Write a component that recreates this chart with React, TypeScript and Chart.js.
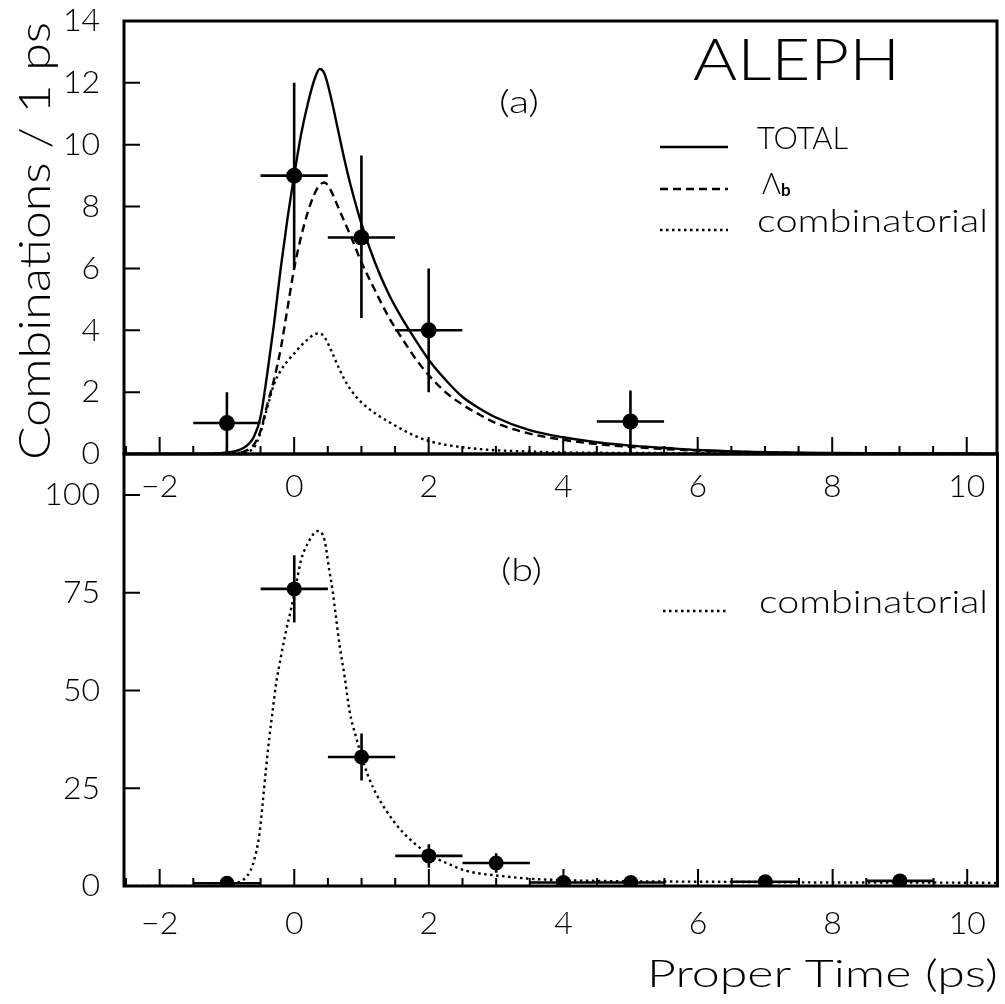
import React, { useEffect, useRef } from 'react';
import { Chart, registerables } from 'chart.js';

Chart.register(...registerables);

const W = 1005;
const H = 1004;
const FONT = 'Lato, "Open Sans", "DejaVu Sans", sans-serif';
const TEXT_WEIGHT = '300';

// ---------- axis ranges / ticks ----------
const X_MIN = -2.53;
const X_MAX = 10.45;
const X_TICK_STEP = 2;
const X_MINOR_STEP = 0.5;
const TOP_Y_MAX = 14;
const TOP_Y_STEP = 2;
const BOT_Y_MAX = 110.5;
const BOT_Y_STEP = 25;

// ---------- panel (a): fitted curves ----------
const topCurveT = [
  -2.53, -1.5, -1.0, -0.75, -0.6, -0.5, -0.4, -0.3, -0.2, -0.1,
  0, 0.1, 0.2, 0.3, 0.38, 0.45, 0.55, 0.65, 0.75, 0.85,
  1.0, 1.2, 1.4, 1.6, 1.8, 2.0, 2.25, 2.5, 2.75, 3.0,
  3.5, 4.0, 4.5, 5.0, 5.5, 6.0, 7.0, 8.0, 9.0, 10.45,
];
const topTotal = [
  0, 0, 0.05, 0.2, 0.55, 1.2, 2.6, 4.2, 6.0, 7.6,
  9.0, 10.3, 11.3, 12.1, 12.45, 12.3, 11.5, 10.5, 9.5, 8.6,
  7.45, 6.2, 5.2, 4.4, 3.7, 3.05, 2.4, 1.85, 1.48, 1.18,
  0.77, 0.54, 0.38, 0.27, 0.2, 0.13, 0.06, 0.03, 0.015, 0.005,
];
const topLambdaB = [
  0, 0, 0.02, 0.08, 0.3, 0.75, 1.6, 2.4, 3.4, 4.7,
  6.0, 7.0, 7.8, 8.4, 8.7, 8.78, 8.5, 8.0, 7.5, 7.0,
  6.2, 5.3, 4.45, 3.75, 3.1, 2.55, 2.0, 1.6, 1.28, 1.0,
  0.66, 0.46, 0.32, 0.23, 0.16, 0.11, 0.05, 0.02, 0.01, 0.004,
];
const topCombinatorial = [
  0, 0, 0.02, 0.06, 0.2, 0.7, 1.5, 2.25, 2.7, 3.0,
  3.25, 3.5, 3.7, 3.87, 3.9, 3.78, 3.35, 2.85, 2.4, 2.05,
  1.67, 1.32, 1.05, 0.8, 0.58, 0.42, 0.3, 0.22, 0.16, 0.12,
  0.08, 0.05, 0.04, 0.03, 0.03, 0.02, 0.02, 0.01, 0.01, 0.01,
];

// ---------- panel (a): data points ----------
const topDataT = [-1, 0, 1, 2, 5];
const topDataN = [1, 9, 7, 4, 1.05];
const topErrUp = [1, 3, 2.65, 2, 1];
const topErrDown = [1, 3, 2.6, 2, 1.05];
const topBinHalf = [0.5, 0.5, 0.5, 0.5, 0.5];

// ---------- panel (b): combinatorial curve ----------
const botCurveT = [
  -2.53, -1.5, -1.0, -0.85, -0.75, -0.65, -0.6, -0.52, -0.47, -0.42,
  -0.37, -0.32, -0.27, -0.2, -0.12, -0.04, 0.03, 0.1, 0.2, 0.35,
  0.45, 0.52, 0.57, 0.62, 0.67, 0.75, 0.82, 0.92, 1.02, 1.17,
  1.37, 1.6, 2.0, 2.3, 2.55, 3.05, 3.55, 4.0, 4.5, 5.0,
  6.0, 7.0, 8.0, 9.0, 10.45,
];
const botCombinatorial = [
  0, 0, 0.3, 0.8, 1.7, 4, 6.4, 13, 21, 30,
  38, 45, 51.7, 58.5, 65.4, 71.4, 77.4, 83.3, 87.6, 90.8,
  88.5, 80.8, 75.6, 68.8, 62, 53.4, 44.9, 38, 32, 25.2,
  19.2, 14, 8.1, 5.6, 3.9, 2.6, 1.8, 1.5, 1.3, 1.2,
  1.1, 1.0, 0.9, 0.9, 0.8,
];

// ---------- panel (b): data points ----------
const botDataT = [-1, 0, 1, 2, 3, 4, 5, 7, 9];
const botDataN = [0.7, 76, 33, 7.7, 5.9, 0.9, 0.9, 1.1, 1.3];
const botErrUp = [1, 8.6, 6, 3, 2.5, 1, 1, 1, 1];
const botErrDown = [0.7, 8.6, 6, 3, 2.5, 0.9, 0.9, 1.1, 1.3];
const botBinHalf = [0.5, 0.5, 0.5, 0.5, 0.5, 0.5, 0.5, 0.5, 0.5];

// ---------- text ----------
const Y_TITLE = 'Combinations / 1 ps';
const X_TITLE = 'Proper Time (ps)';
const EXPERIMENT = 'ALEPH';
const LEG_TOTAL = 'TOTAL';
const LEG_LAMBDA = '\u039B';
const LEG_LAMBDA_SUB = 'b';
const LEG_COMB = 'combinatorial';
const PANEL_A = '(a)';
const PANEL_B = '(b)';

const DASH = [8, 5];
const DOT = [2.5, 3.5];
const CURVE_W = 2.4;

const fmt = (v: number) => (v < 0 ? '\u2212' + Math.abs(v) : String(v));
const pts = (ts: number[], vs: number[]) => ts.map((t, i) => ({ x: t, y: vs[i] }));

// draws text starting at x (left), stretched horizontally to the given width
function fitText(
  ctx: CanvasRenderingContext2D,
  text: string,
  x: number,
  y: number,
  size: number,
  width: number | null,
  weight = TEXT_WEIGHT
) {
  ctx.save();
  ctx.font = `${weight} ${size}px ${FONT}`;
  ctx.textAlign = 'left';
  ctx.textBaseline = 'alphabetic';
  const w = ctx.measureText(text).width;
  const sx = width != null ? width / w : 1;
  ctx.translate(x, y);
  ctx.scale(sx, 1);
  ctx.fillText(text, 0, 0);
  ctx.restore();
}

function legendLine(ctx: CanvasRenderingContext2D, x0: number, x1: number, y: number, dash: number[]) {
  ctx.save();
  ctx.strokeStyle = '#000';
  ctx.lineWidth = CURVE_W;
  ctx.setLineDash(dash);
  ctx.beginPath();
  ctx.moveTo(x0, y);
  ctx.lineTo(x1, y);
  ctx.stroke();
  ctx.restore();
}

function drawErrors(chart: any, ts: number[], ns: number[], up: number[], down: number[], half: number[]) {
  const { ctx } = chart;
  const x = chart.scales.x;
  const y = chart.scales.y;
  ctx.save();
  ctx.strokeStyle = '#000';
  ctx.lineWidth = 2.6;
  ctx.beginPath();
  ts.forEach((t, i) => {
    const px = x.getPixelForValue(t);
    const py = y.getPixelForValue(ns[i]);
    ctx.moveTo(x.getPixelForValue(t - half[i]), py);
    ctx.lineTo(x.getPixelForValue(t + half[i]), py);
    ctx.moveTo(px, y.getPixelForValue(ns[i] + up[i]));
    ctx.lineTo(px, y.getPixelForValue(Math.max(0, ns[i] - down[i])));
  });
  ctx.stroke();
  ctx.restore();
}

function drawFrame(chart: any) {
  const { ctx, chartArea: a } = chart;
  const x = chart.scales.x;
  const y = chart.scales.y;
  ctx.save();
  ctx.strokeStyle = '#000';
  ctx.lineWidth = 3;
  ctx.strokeRect(a.left, a.top, a.right - a.left, a.bottom - a.top);
  ctx.lineWidth = 2;
  ctx.beginPath();
  const start = Math.ceil(x.min / X_MINOR_STEP) * X_MINOR_STEP;
  for (let v = start; v <= x.max + 1e-9; v += X_MINOR_STEP) {
    const px = x.getPixelForValue(v);
    const r = v / X_TICK_STEP;
    const major = Math.abs(r - Math.round(r)) < 1e-6;
    ctx.moveTo(px, a.bottom);
    ctx.lineTo(px, a.bottom - (major ? 17 : 8));
  }
  y.ticks.forEach((t: any) => {
    const py = y.getPixelForValue(t.value);
    ctx.moveTo(a.left, py);
    ctx.lineTo(a.left + 16, py);
  });
  ctx.stroke();
  ctx.restore();
}

function baseOptions(yMax: number, yStep: number, padTop: number, xAxisHeight: number, xPad: number) {
  const tickFont = { family: FONT, size: 32, weight: TEXT_WEIGHT };
  return {
    responsive: false,
    maintainAspectRatio: false,
    animation: false as const,
    devicePixelRatio: 1,
    events: [] as any[],
    layout: { padding: { top: padTop, right: 7, left: 0, bottom: 0 } },
    plugins: { legend: { display: false }, tooltip: { enabled: false } },
    scales: {
      x: {
        type: 'linear' as const,
        min: X_MIN,
        max: X_MAX,
        grid: { display: false, drawTicks: false },
        border: { display: false },
        ticks: {
          stepSize: X_TICK_STEP,
          includeBounds: false,
          autoSkip: false,
          maxRotation: 0,
          padding: xPad,
          color: '#000',
          font: tickFont,
          callback: (v: any) => fmt(Number(v)),
        },
        afterFit: (s: any) => {
          s.height = xAxisHeight;
          s.paddingLeft = 0;
          s.paddingRight = 0;
        },
      },
      y: {
        type: 'linear' as const,
        min: 0,
        max: yMax,
        grid: { display: false, drawTicks: false },
        border: { display: false },
        ticks: {
          stepSize: yStep,
          includeBounds: false,
          autoSkip: false,
          padding: 24,
          color: '#000',
          font: tickFont,
          callback: (v: any) => fmt(Number(v)),
        },
        afterFit: (s: any) => {
          s.width = 124;
          s.paddingTop = 0;
          s.paddingBottom = 0;
        },
      },
    },
  };
}

export default function App() {
  const topRef = useRef<HTMLCanvasElement>(null);
  const botRef = useRef<HTMLCanvasElement>(null);

  useEffect(() => {
    const topPlugin = {
      id: 'paperTop',
      beforeDatasetsDraw(chart: any) {
        drawErrors(chart, topDataT, topDataN, topErrUp, topErrDown, topBinHalf);
      },
      afterDraw(chart: any) {
        const ctx = chart.ctx as CanvasRenderingContext2D;
        drawFrame(chart);
        ctx.save();
        ctx.fillStyle = '#000';
        // y title (reads bottom to top)
        ctx.save();
        ctx.translate(50, 241);
        ctx.rotate(-Math.PI / 2);
        fitText(ctx, Y_TITLE, -219, 0, 44, 438);
        ctx.restore();
        // ALEPH
        fitText(ctx, EXPERIMENT, 693, 80, 58, 207);
        // (a)
        fitText(ctx, PANEL_A, 499, 113, 32, 40);
        // legend
        legendLine(ctx, 660, 728, 147, []);
        fitText(ctx, LEG_TOTAL, 757, 149, 32, 91);
        legendLine(ctx, 660, 728, 189, DASH);
        fitText(ctx, LEG_LAMBDA, 762, 194, 29, null);
        fitText(ctx, LEG_LAMBDA_SUB, 781, 196, 17, null, 'bold');
        legendLine(ctx, 660, 728, 230, DOT);
        fitText(ctx, LEG_COMB, 757, 232, 31, 231);
        ctx.restore();
      },
    };

    const botPlugin = {
      id: 'paperBot',
      beforeDatasetsDraw(chart: any) {
        drawErrors(chart, botDataT, botDataN, botErrUp, botErrDown, botBinHalf);
      },
      afterDraw(chart: any) {
        const ctx = chart.ctx as CanvasRenderingContext2D;
        drawFrame(chart);
        ctx.save();
        ctx.fillStyle = '#000';
        fitText(ctx, PANEL_B, 501, 581, 32, 41);
        legendLine(ctx, 663, 728, 611, DOT);
        fitText(ctx, LEG_COMB, 759, 613, 31, 229);
        fitText(ctx, X_TITLE, 647, 987, 37, 351);
        ctx.restore();
      },
    };

    const topChart = new Chart(topRef.current as HTMLCanvasElement, {
      type: 'line',
      data: {
        datasets: [
          {
            type: 'scatter',
            label: 'data',
            data: pts(topDataT, topDataN),
            pointRadius: 8,
            pointBackgroundColor: '#000',
            pointBorderColor: '#000',
            pointBorderWidth: 0,
            showLine: false,
          } as any,
          {
            label: LEG_TOTAL,
            data: pts(topCurveT, topTotal),
            borderColor: '#000',
            borderWidth: CURVE_W,
            pointRadius: 0,
            cubicInterpolationMode: 'monotone',
            fill: false,
          },
          {
            label: LEG_LAMBDA + LEG_LAMBDA_SUB,
            data: pts(topCurveT, topLambdaB),
            borderColor: '#000',
            borderWidth: CURVE_W,
            borderDash: DASH,
            pointRadius: 0,
            cubicInterpolationMode: 'monotone',
            fill: false,
          },
          {
            label: LEG_COMB,
            data: pts(topCurveT, topCombinatorial),
            borderColor: '#000',
            borderWidth: CURVE_W,
            borderDash: DOT,
            pointRadius: 0,
            cubicInterpolationMode: 'monotone',
            fill: false,
          },
        ],
      },
      options: baseOptions(TOP_Y_MAX, TOP_Y_STEP, 21, H - 454, 13) as any,
      plugins: [topPlugin],
    });

    const botChart = new Chart(botRef.current as HTMLCanvasElement, {
      type: 'line',
      data: {
        datasets: [
          {
            type: 'scatter',
            label: 'data',
            data: pts(botDataT, botDataN),
            pointRadius: 7.5,
            pointBackgroundColor: '#000',
            pointBorderColor: '#000',
            pointBorderWidth: 0,
            showLine: false,
          } as any,
          {
            label: LEG_COMB,
            data: pts(botCurveT, botCombinatorial),
            borderColor: '#000',
            borderWidth: CURVE_W,
            borderDash: DOT,
            pointRadius: 0,
            cubicInterpolationMode: 'monotone',
            fill: false,
          },
        ],
      },
      options: baseOptions(BOT_Y_MAX, BOT_Y_STEP, 454, H - 886, 18) as any,
      plugins: [botPlugin],
    });

    return () => {
      topChart.destroy();
      botChart.destroy();
    };
  }, []);

  const canvasStyle: React.CSSProperties = {
    position: 'absolute',
    left: 0,
    top: 0,
    width: W,
    height: H,
  };

  return (
    <div style={{ position: 'absolute', left: 0, top: 0, width: W, height: H, background: '#fff' }}>
      <canvas ref={botRef} width={W} height={H} style={canvasStyle} />
      <canvas ref={topRef} width={W} height={H} style={canvasStyle} />
    </div>
  );
}
